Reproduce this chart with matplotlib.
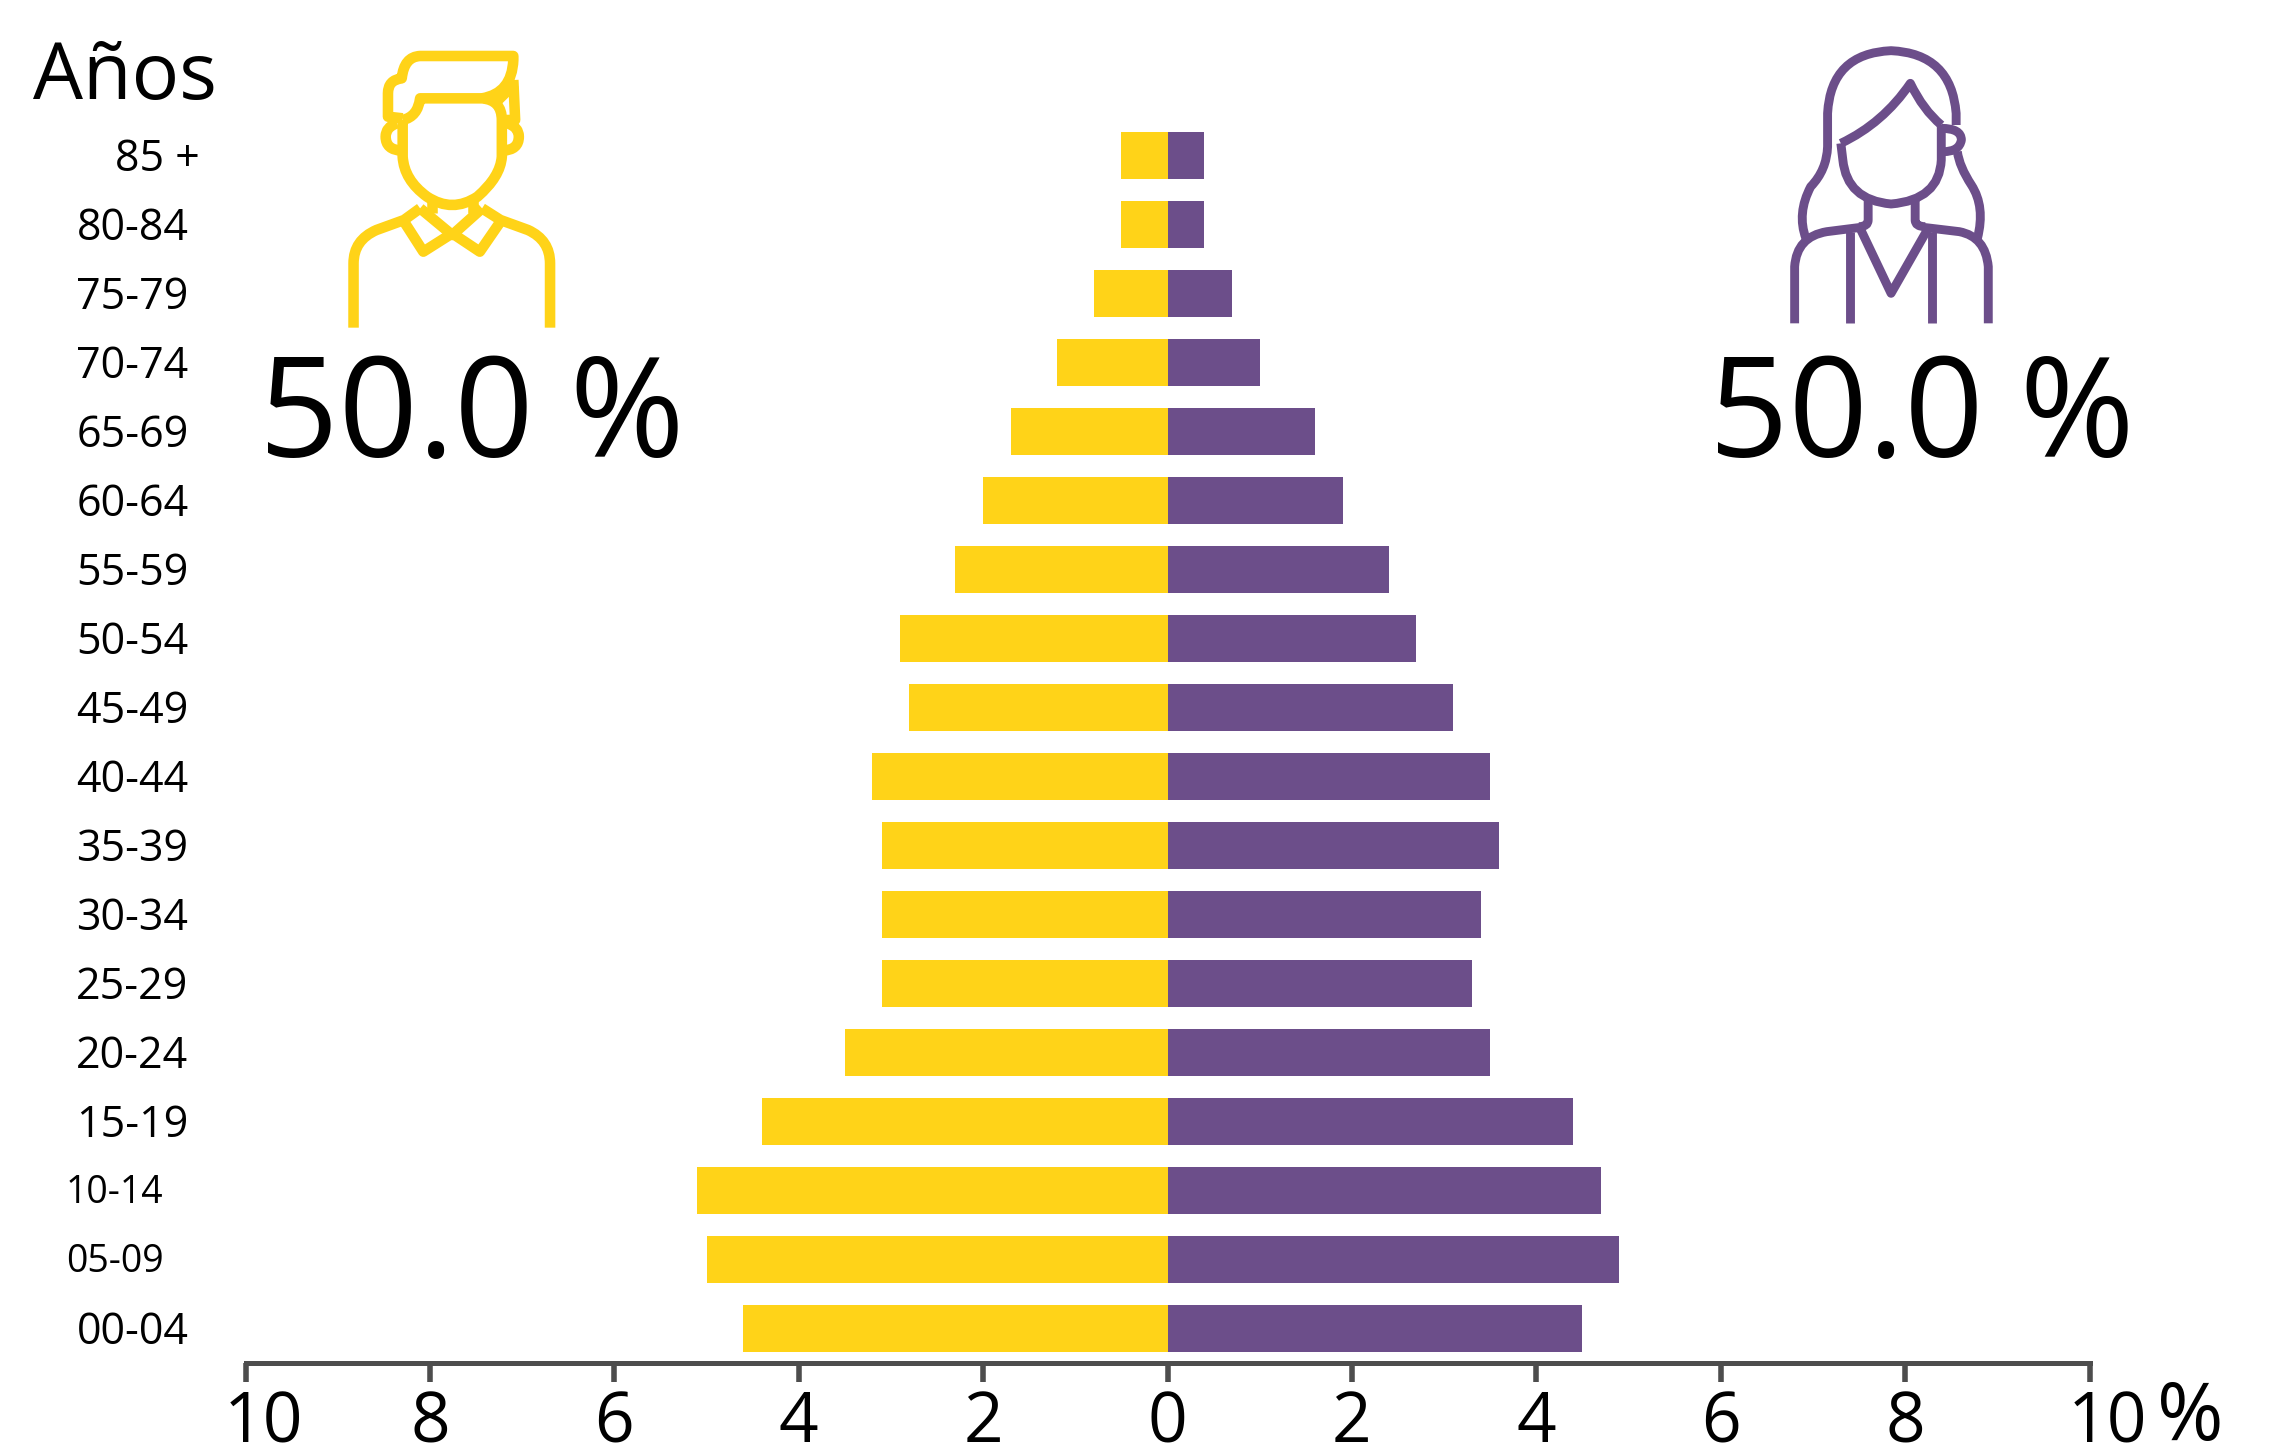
import matplotlib
matplotlib.use("Agg")
import matplotlib.pyplot as plt
from matplotlib.path import Path
from matplotlib.patches import PathPatch
from matplotlib.transforms import ScaledTranslation

plt.rcParams['font.family'] = ['Open Sans', 'DejaVu Sans']

ages = ["85 +", "80-84", "75-79", "70-74", "65-69", "60-64", "55-59", "50-54", "45-49",
        "40-44", "35-39", "30-34", "25-29", "20-24", "15-19", "10-14", "05-09", "00-04"]
men = [0.5, 0.5, 0.8, 1.2, 1.7, 2.0, 2.3, 2.9, 2.8, 3.2, 3.1, 3.1, 3.1, 3.5, 4.4, 5.1, 5.0, 4.6]
women = [0.4, 0.4, 0.7, 1.0, 1.6, 1.9, 2.4, 2.7, 3.1, 3.5, 3.6, 3.4, 3.3, 3.5, 4.4, 4.7, 4.9, 4.5]
xticks = [-10, -8, -6, -4, -2, 0, 2, 4, 6, 8, 10]
xlabels = ["10", "8", "6", "4", "2", "0", "2", "4", "6", "8", "10"]
men_share = "50.0 %"
women_share = "50.0 %"

YELLOW = "#FFD318"
PURPLE = "#6C4E8A"
W, H = 2280, 1447

fig = plt.figure(figsize=(W / 100, H / 100), dpi=100)

# axes placed in pixels
left, right = 245.5, 2089.5
top, bottom = 100.2, 1363
ax = fig.add_axes([left / W, 1 - bottom / H, (right - left) / W, (bottom - top) / H])
y = list(range(len(ages)))
ax.barh(y, [-v for v in men], height=0.68, color=YELLOW)
ax.barh(y, women, height=0.68, color=PURPLE)
ax.set_xlim(-10, 10)
ax.set_ylim(17.5, -0.8)
for s in ["top", "left", "right"]:
    ax.spines[s].set_visible(False)
ax.spines["bottom"].set_linewidth(3.6)
ax.spines["bottom"].set_color("#4d4d4d")
ax.set_xticks(xticks)
ax.set_xticklabels(xlabels, fontsize=50)
ax.tick_params(axis="x", length=14, width=4, color="#4d4d4d", pad=5)
ax.set_yticks(y)
ax.set_yticklabels(ages, fontsize=31, ha="right")
ax.tick_params(axis="y", length=0, pad=41)

# the few labels that sit off the common edge
nudge = {"85 +": (11, 31), "10-14": (-25, 27), "05-09": (-25, 27)}
for lab in ax.get_yticklabels():
    dx, size = nudge.get(lab.get_text(), (0, 31))
    lab.set_fontsize(size)
    lab.set_transform(lab.get_transform() + ScaledTranslation(dx / 100, 1.5 / 100, fig.dpi_scale_trans))
xl = ax.get_xticklabels()
for lab in (xl[0], xl[-1]):
    lab.set_transform(lab.get_transform() + ScaledTranslation(18 / 100, 0, fig.dpi_scale_trans))

# overlay in pixel coordinates for title text and the two icons
ov = fig.add_axes([0, 0, 1, 1])
ov.set_xlim(0, W)
ov.set_ylim(H, 0)
ov.axis("off")
ov.patch.set_alpha(0)

ov.text(33, 99, "Años", fontsize=57, va="baseline", ha="left")
ov.text(259, 457, men_share, fontsize=100, va="baseline", ha="left")
ov.text(1709, 457, women_share, fontsize=100, va="baseline", ha="left")
ov.text(2157, 1440, "%", fontsize=58, va="baseline", ha="left")


def stroke(d, color, lw, sx, sy, x0=0):
    verts, codes = [], []
    t = d.split()
    i = 0
    n = {"M": 1, "L": 1, "Q": 2}
    kind = {"M": Path.MOVETO, "L": Path.LINETO, "Q": Path.CURVE3}
    while i < len(t):
        c = t[i]
        i += 1
        for _ in range(n[c]):
            verts.append((x0 + float(t[i]) / sx, float(t[i + 1]) / sy))
            codes.append(kind[c])
            i += 2
    ov.add_patch(PathPatch(Path(verts, codes), fill=False, edgecolor=color, lw=lw,
                           capstyle="butt", joinstyle="round"))


man = [
    "M 770 983 L 770 790 Q 770 720 820 690 L 880 660 L 915 625",
    "M 1198 983 L 1198 790 Q 1198 720 1150 690 L 1090 660 L 1050 625",
    "M 880 665 L 922 755 L 985 700 L 1045 755 L 1090 665",
    "M 915 625 L 985 705 L 1050 625",
    "M 940 600 L 940 640",
    "M 1030 600 L 1030 640",
    "M 877 360 L 877 470 Q 880 540 930 590 Q 985 640 1040 590 Q 1090 530 1093 470 L 1093 360 Q 1093 300 1050 295 L 915 295 Q 910 350 877 360",
    "M 1050 295 Q 1115 280 1118 180 L 1118 168 L 915 168 Q 880 170 875 235 Q 845 240 845 280 L 845 350 L 877 355",
    "M 1118 240 L 1122 360 L 1093 360",
    "M 1085 300 L 1122 250",
    "M 865 370 Q 840 380 840 410 Q 840 450 875 452",
    "M 1105 370 Q 1130 380 1130 410 Q 1130 450 1095 452",
]
woman = [
    "M 388 715 Q 365 640 400 560 Q 440 510 442 440 L 442 340 Q 450 160 600 152 Q 750 160 762 340 L 762 375",
    "M 765 455 Q 770 500 800 555 Q 835 620 815 715",
    "M 475 430 L 480 480 Q 490 600 600 612 Q 720 600 725 480 L 725 375",
    "M 475 430 Q 580 370 648 250 Q 680 330 725 375",
    "M 725 385 Q 775 385 775 420 Q 770 455 730 455",
    "M 543 600 L 543 660 Q 543 680 520 680",
    "M 660 600 L 660 660 Q 660 680 685 680",
    "M 360 970 L 360 800 Q 365 710 440 695 L 525 682",
    "M 842 970 L 842 800 Q 835 710 770 695 L 680 682",
    "M 525 690 L 600 880 L 690 690",
    "M 497 970 L 497 695",
    "M 703 970 L 703 695",
]
for d in man:
    stroke(d, YELLOW, 7.6, 2.178, 3)
for d in woman:
    stroke(d, PURPLE, 6.4, 2.489, 3, x0=1650)

plt.savefig("out.png", dpi=100)
